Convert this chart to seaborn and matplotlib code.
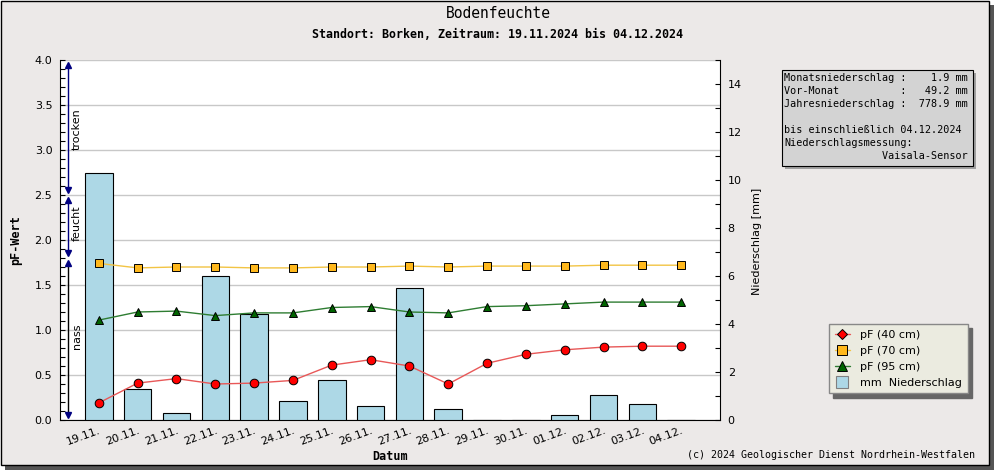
import numpy as np
import pandas as pd
import matplotlib
matplotlib.use("Agg")
import matplotlib.pyplot as plt
from matplotlib.lines import Line2D
from matplotlib.patches import Rectangle
from matplotlib.ticker import MultipleLocator, FormatStrFormatter
import seaborn as sns

# -------------------------
# Data
# -------------------------
dates = ["19.11.", "20.11.", "21.11.", "22.11.", "23.11.", "24.11.", "25.11.", "26.11.",
         "27.11.", "28.11.", "29.11.", "30.11.", "01.12.", "02.12.", "03.12.", "04.12."]
niederschlag = [10.3, 1.3, 0.3, 6.0, 4.4, 0.8, 1.65, 0.6, 5.5, 0.45, 0.0, 0.0, 0.2, 1.05, 0.65, 0.0]
pf_40 = [0.19, 0.41, 0.46, 0.40, 0.41, 0.44, 0.61, 0.67, 0.60, 0.40, 0.63, 0.73, 0.78, 0.81, 0.82, 0.82]
pf_70 = [1.74, 1.69, 1.70, 1.70, 1.69, 1.69, 1.70, 1.70, 1.71, 1.70, 1.71, 1.71, 1.71, 1.72, 1.72, 1.72]
pf_95 = [1.11, 1.20, 1.21, 1.16, 1.19, 1.19, 1.25, 1.26, 1.20, 1.19, 1.26, 1.27, 1.29, 1.31, 1.31, 1.31]

# soil moisture zones (pF ranges) drawn as arrows at the left edge
zone_names = ["trocken", "feucht", "nass"]
zone_low = [2.5, 1.8, 0.0]
zone_high = [4.0, 2.5, 1.8]
zone_label_pos = [3.0, 1.99, 0.79]

info_lines = [
    "Monatsniederschlag :    1.9 mm",
    "Vor-Monat          :   49.2 mm",
    "Jahresniederschlag :  778.9 mm",
    "",
    "bis einschließlich 04.12.2024",
    "Niederschlagsmessung:",
    "                Vaisala-Sensor",
]

df = pd.DataFrame({"datum": dates, "pos": np.arange(len(dates)), "mm": niederschlag,
                   "pf40": pf_40, "pf70": pf_70, "pf95": pf_95})

# -------------------------
# Figure setup
# -------------------------
sns.set_style("white")
plt.rcParams["font.family"] = ["DejaVu Sans"]
plt.rcParams["text.color"] = "black"
plt.rcParams["axes.labelcolor"] = "black"
plt.rcParams["xtick.color"] = "black"
plt.rcParams["ytick.color"] = "black"
MONO = "DejaVu Sans Mono"
W, H = 995, 470
BG = "#ECE9E8"


def rect_px(x0, y0, x1, y1, **kw):
    """Rectangle given in pixel coords (origin top-left) -> figure fraction."""
    return Rectangle((x0 / W, 1 - y1 / H), (x1 - x0) / W, (y1 - y0) / H,
                     transform=fig.transFigure, **kw)


fig = plt.figure(figsize=(W / 100, H / 100), dpi=100, facecolor="white")
fig.add_artist(rect_px(5, 5, 995, 470, facecolor="#555555", edgecolor="none", zorder=-3))
fig.add_artist(rect_px(0.5, 0.5, 989.5, 465, facecolor=BG, edgecolor="black", lw=1, zorder=-2))

ax = fig.add_axes([60 / W, 1 - 420 / H, 660 / W, 360 / H])
ax.set_facecolor("white")
ax_bar = ax.twinx()
ax_line = ax.twinx()

# -------------------------
# Precipitation bars (right axis)
# -------------------------
sns.barplot(data=df, x="datum", y="mm", order=dates, ax=ax_bar, color="#ADD8E6",
            saturation=1, edgecolor="black", linewidth=0.8, width=0.71)
ax_bar.set_ylim(0, 15)
ax_bar.yaxis.set_major_locator(MultipleLocator(2))
ax_bar.yaxis.set_minor_locator(MultipleLocator(1))
ax_bar.tick_params(axis="y", which="both", direction="in", length=3.5, width=0.8,
                   labelsize=8, pad=5.5, right=True, left=False, colors="black")
ax_bar.set_ylabel("")
ax_bar.set_xlabel("")
for side in ["top", "left", "bottom"]:
    ax_bar.spines[side].set_visible(False)
ax_bar.spines["right"].set_linewidth(0.8)
ax_bar.spines["right"].set_color("black")

# -------------------------
# pF lines (top layer)
# -------------------------
series = [
    ("pf40", "#E85858", "o", "#FF0000", 6.2),
    ("pf70", "#F2C444", "s", "#FFB81C", 5.2),
    ("pf95", "#2E7D32", "^", "#006400", 6.2),
]
for col, lcol, mk, fcol, ms in series:
    sns.lineplot(data=df, x="pos", y=col, ax=ax_line, color=lcol, linewidth=1,
                 marker=mk, markersize=ms, markerfacecolor=fcol,
                 markeredgecolor="black", markeredgewidth=0.7,
                 estimator=None, errorbar=None, legend=False, zorder=5)
ax_line.set_ylim(0, 4)
ax_line.axis("off")

# zone arrows
trans = ax_line.get_yaxis_transform()
ax_x, txt_x = 8 / 660, 17 / 660
gap, head = 0.02, 0.038
for i, name in enumerate(zone_names):
    lo, hi = zone_low[i] + gap, zone_high[i] - gap
    shaft = "black" if name == "nass" else "navy"
    ax_line.plot([ax_x, ax_x], [lo + head, hi - head], color=shaft, lw=1, transform=trans,
                 clip_on=False, zorder=4)
    ax_line.plot([ax_x], [hi - head], marker="^", color="navy", markersize=5,
                 transform=trans, clip_on=False, zorder=4)
    ax_line.plot([ax_x], [lo + head], marker="v", color="navy", markersize=5,
                 transform=trans, clip_on=False, zorder=4)
    ax_line.text(txt_x, zone_label_pos[i], name, rotation=90, ha="center", va="bottom",
                 fontsize=8, transform=trans, zorder=4)

# -------------------------
# Base axis: pF ticks + grid
# -------------------------
ax.set_ylim(0, 4)
ax.yaxis.set_major_locator(MultipleLocator(0.5))
ax.yaxis.set_minor_locator(MultipleLocator(0.1))
ax.yaxis.set_major_formatter(FormatStrFormatter("%.1f"))
ax.yaxis.grid(True, color="#C8C8C8", lw=1)
ax.set_axisbelow(True)
ax.tick_params(axis="y", which="both", direction="in", length=3.5, width=0.8,
               labelsize=8, pad=5.5, left=True, right=False, colors="black")
ax.set_xticks(df["pos"])
ax.set_xticklabels(dates, rotation=20, ha="right", va="top", rotation_mode="anchor")
ax.tick_params(axis="x", direction="in", length=3.5, width=0.8, labelsize=8, pad=4,
               colors="black")
for side in ["top", "right"]:
    ax.spines[side].set_visible(False)
for side in ["left", "bottom"]:
    ax.spines[side].set_linewidth(0.8)
    ax.spines[side].set_color("black")
for a in (ax, ax_bar, ax_line):
    a.set_xlim(-1, len(dates))

# -------------------------
# Texts
# -------------------------
fig.text(498 / W, 1 - 14 / H, "Bodenfeuchte", family=MONO, fontsize=10.5,
         ha="center", va="center")
fig.text(498 / W, 1 - 34 / H, "Standort: Borken, Zeitraum: 19.11.2024 bis 04.12.2024",
         family=MONO, fontsize=8.4, fontweight="bold", ha="center", va="center")
fig.text(16 / W, 1 - 240 / H, "pF-Wert", family=MONO, fontsize=8.5, fontweight="bold",
         rotation=90, ha="center", va="center")
fig.text(390 / W, 1 - 457 / H, "Datum", family=MONO, fontsize=8.5, fontweight="bold",
         ha="center", va="center")
fig.text(757 / W, 1 - 241 / H, "Niederschlag [mm]", fontsize=8, rotation=90,
         ha="center", va="center")
fig.text(975 / W, 1 - 455 / H, "(c) 2024 Geologischer Dienst Nordrhein-Westfalen",
         family=MONO, fontsize=7.2, ha="right", va="center")

# info box
fig.add_artist(rect_px(785, 73, 976, 169, facecolor="#A0A0A0", edgecolor="none"))
fig.add_artist(rect_px(782, 70, 973, 166, facecolor="#D3D3D3", edgecolor="black", lw=0.8))
for i, line in enumerate(info_lines):
    fig.text(784 / W, 1 - (78 + 13 * i) / H, line, family=MONO, fontsize=7.3,
             ha="left", va="center")

# legend
handles = [
    Line2D([], [], color="#E85858", lw=1, marker="D", markersize=5.5,
           markerfacecolor="#FF0000", markeredgecolor="black", markeredgewidth=0.7),
    Line2D([], [], color="#F2C444", lw=1, marker="s", markersize=6.5,
           markerfacecolor="#FFB81C", markeredgecolor="black", markeredgewidth=0.7),
    Line2D([], [], color="#2E7D32", lw=1, marker="^", markersize=7,
           markerfacecolor="#006400", markeredgecolor="black", markeredgewidth=0.7),
    Line2D([], [], lw=0, marker="s", markersize=8, markerfacecolor="#ADD8E6",
           markeredgecolor="#808080", markeredgewidth=0.8),
]
labels = ["pF (40 cm)", "pF (70 cm)", "pF (95 cm)", "mm  Niederschlag"]
fig.legend(handles, labels, loc="upper left", bbox_to_anchor=(829 / W, 1 - 324 / H),
           bbox_transform=fig.transFigure, borderaxespad=0, frameon=True, fancybox=False,
           facecolor="#EBEBE0", edgecolor="#888888", framealpha=1, fontsize=8,
           handlelength=1.4, handletextpad=0.9, labelspacing=0.55, borderpad=0.5,
           shadow={"color": "#666666", "alpha": 1, "ox": 3, "oy": -3})

plt.savefig("out.png", dpi=100, facecolor=fig.get_facecolor())
